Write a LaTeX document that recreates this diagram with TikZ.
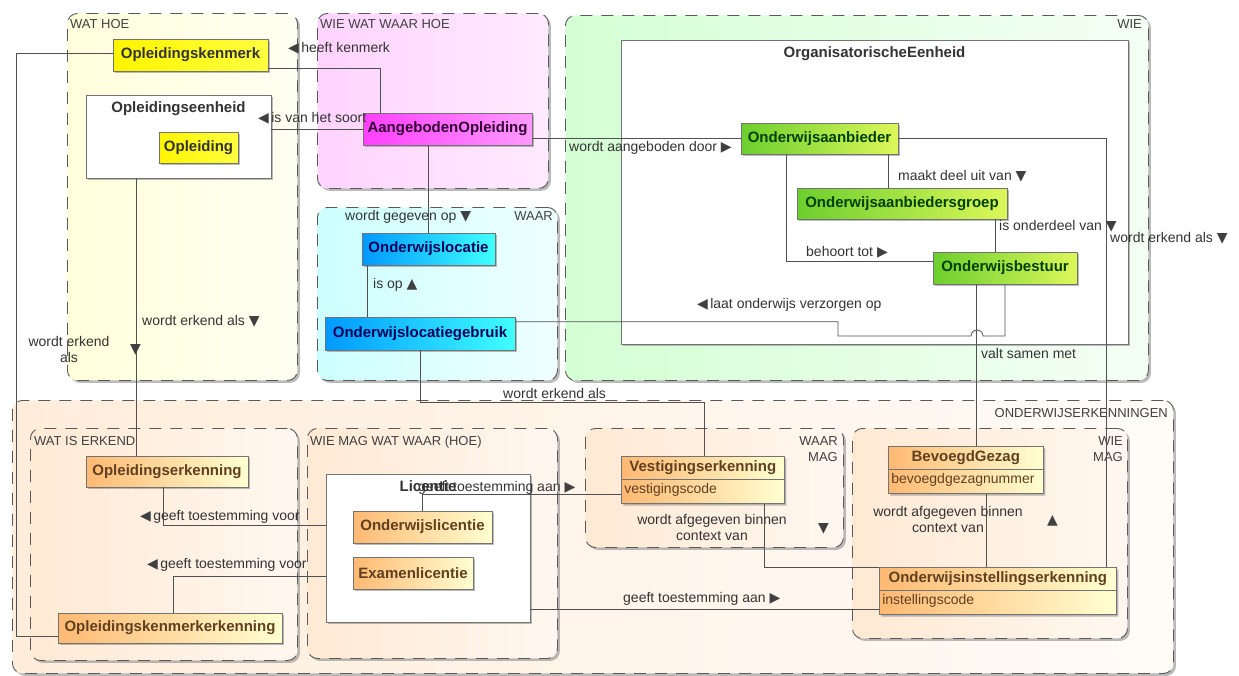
\documentclass[tikz,border=0pt]{standalone}
\usepackage{fontspec}
\setmainfont{Liberation Sans}
\newfontfamily\symfont{DejaVu Sans}
\usetikzlibrary{shapes.multipart,shadows}

\definecolor{lineclr}{HTML}{505050}
\definecolor{dirclr}{HTML}{404040}
\definecolor{grnleft}{HTML}{6CCF2E}
\definecolor{grnright}{HTML}{DDF75A}
\newcommand{\dirleft}{{\symfont\color{dirclr}◀}}
\newcommand{\dirright}{{\symfont\color{dirclr}▶}}
\newcommand{\dirdown}{{\symfont\color{dirclr}▼}}
\newcommand{\dirup}{{\symfont\color{dirclr}▲}}

\tikzset{
  grp/.style={draw=black!65, line width=0.9pt, dash pattern=on 12pt off 9pt,
    rounded corners=10pt, anchor=north west, inner sep=0pt,
    drop shadow={shadow xshift=2.5pt, shadow yshift=-2.5pt, fill=black!45, opacity=0.6}},
  grplbl/.style={font=\fontsize{13}{15}\selectfont, text=black!75, inner sep=0pt},
  box/.style={draw=black!55, line width=0.6pt, inner sep=3pt,
    font=\fontsize{15}{17}\selectfont\bfseries,
    drop shadow={shadow xshift=2pt, shadow yshift=-2pt, fill=black!45, opacity=0.6}},
  ybox/.style={box, left color=yellow!92!orange, right color=yellow!75!white, text=black!80},
  mbox/.style={box, left color=magenta!75!white, right color=magenta!40!white, text=violet!40!black},
  bbox/.style={box, left color=cyan!60!blue, right color=cyan!75!white, text=blue!35!black},
  gbox/.style={box, left color=grnleft, right color=grnright, text=green!25!black},
  obox/.style={box, left color=orange!55!white, right color=yellow!18!white, text=brown!50!black},
  clsbox/.style={obox, anchor=north west, rectangle split, rectangle split parts=2,
    rectangle split part align={center,left}, inner ysep=4pt},
  cont/.style={draw=black!55, fill=white, line width=0.6pt,
    drop shadow={shadow xshift=2pt, shadow yshift=-2pt, fill=black!45, opacity=0.6}},
  ttl/.style={font=\fontsize{15}{17}\selectfont\bfseries, text=black!80, inner sep=0pt},
  lbl/.style={font=\fontsize{14}{16}\selectfont, text=black!80, inner sep=0pt},
  conn/.style={draw=lineclr, line width=0.8pt},
}

\begin{document}
\begin{tikzpicture}[x=1pt, y=-1pt]
  \fill[white] (0,0) rectangle (1239,675);
  \useasboundingbox (0,0) rectangle (1239,675);

  % groups
  \node[grp, left color=yellow!14!white, right color=yellow!5!white, minimum width=230pt, minimum height=367pt] (wathoe) at (67,13) {};
  \node[grp, left color=magenta!17!white, right color=magenta!8!white, minimum width=231pt, minimum height=175pt] (wiewat) at (317,13) {};
  \node[grp, left color=cyan!20!white, right color=cyan!6!white, minimum width=240pt, minimum height=173pt] (waar) at (317,207) {};
  \node[grp, left color=green!17!white, right color=green!4!white, minimum width=583pt, minimum height=365pt] (wie) at (565,15) {};
  \node[grp, left color=orange!14!white, right color=orange!3!white, minimum width=1161pt, minimum height=273pt] (erk) at (12,400) {};
  \node[grp, left color=orange!17!white, right color=orange!6!white, minimum width=267pt, minimum height=232pt] (watis) at (30,428) {};
  \node[grp, left color=orange!17!white, right color=orange!6!white, minimum width=250pt, minimum height=230pt] (wiemagwat) at (307,428) {};
  \node[grp, left color=orange!17!white, right color=orange!6!white, minimum width=258pt, minimum height=119pt] (waarmag) at (585,428) {};
  \node[grp, left color=orange!17!white, right color=orange!6!white, minimum width=275pt, minimum height=210pt] (wiemag) at (852,428) {};

  \node[grplbl, anchor=base west] (l-wathoe) at (70,28) {WAT HOE};
  \node[grplbl, anchor=base west] (l-wiewat) at (320,28) {WIE WAT WAAR HOE};
  \node[grplbl, anchor=base east] (l-waar) at (553,220) {WAAR};
  \node[grplbl, anchor=base east] (l-wie) at (1142,28) {WIE};
  \node[grplbl, anchor=base east] (l-erk) at (1168,417) {ONDERWIJSERKENNINGEN};
  \node[grplbl, anchor=base west] (l-watis) at (34,445) {WAT IS ERKEND};
  \node[grplbl, anchor=base west] (l-wiemagwat) at (310,445) {WIE MAG WAT WAAR (HOE)};
  \node[grplbl, anchor=base east] (l-waarmag1) at (838,445) {WAAR};
  \node[grplbl, anchor=base east] (l-waarmag2) at (838,461) {MAG};
  \node[grplbl, anchor=base east] (l-wiemag1) at (1123,445) {WIE};
  \node[grplbl, anchor=base east] (l-wiemag2) at (1123,461) {MAG};

  % containers
  \node[cont, minimum width=185pt, minimum height=83pt] (eenh) at (178.5,136.5) {};
  \node[ttl, anchor=base] (t-eenh) at (178.5,112) {Opleidingseenheid};
  \node[cont, minimum width=507pt, minimum height=304pt] (orgeh) at (874.5,192) {};
  \node[ttl, anchor=base] (t-orgeh) at (874.5,57) {OrganisatorischeEenheid};
  \node[cont, minimum width=204pt, minimum height=148pt] (lic) at (428,548) {};
  \node[ttl, anchor=base] (t-lic) at (428,491) {Licentie};

  % classes
  \node[ybox, minimum width=155pt, minimum height=32pt] (kenm) at (190.5,55) {Opleidingskenmerk};
  \node[ybox, minimum width=79pt, minimum height=31pt] (opl) at (198.5,147.5) {Opleiding};
  \node[mbox, minimum width=169pt, minimum height=32pt] (aopl) at (447.5,129) {AangebodenOpleiding};
  \node[bbox, minimum width=133pt, minimum height=32pt] (oloc) at (428.5,249) {Onderwijslocatie};
  \node[bbox, minimum width=190pt, minimum height=33pt] (olg) at (420,333.5) {Onderwijslocatiegebruik};
  \node[gbox, minimum width=157pt, minimum height=31pt] (oab) at (819.5,138.5) {Onderwijsaanbieder};
  \node[gbox, minimum width=210pt, minimum height=31pt] (oabg) at (902,203.5) {Onderwijsaanbiedersgroep};
  \node[gbox, minimum width=144pt, minimum height=32pt] (obest) at (1005,268) {Onderwijsbestuur};
  \node[obox, minimum width=162pt, minimum height=31pt] (oplerk) at (167,471.5) {Opleidingserkenning};
  \node[obox, minimum width=224pt, minimum height=30pt] (okerk) at (170,628) {Opleidingskenmerkerkenning};
  \node[obox, minimum width=139pt, minimum height=32pt] (olic) at (422.5,527) {Onderwijslicentie};
  \node[obox, minimum width=120pt, minimum height=32pt] (exlic) at (413,573) {Examenlicentie};
  \node[clsbox, minimum width=163pt] (vest) at (621,456)
    {Vestigingserkenning\nodepart{two}\mdseries\fontsize{14}{16}\selectfont\rule[-6pt]{0pt}{14pt}vestigingscode};
  \node[clsbox, minimum width=155pt] (bg) at (888,446)
    {BevoegdGezag\nodepart{two}\mdseries\fontsize{14}{16}\selectfont\rule[-6pt]{0pt}{14pt}bevoegdgezagnummer};
  \node[clsbox, minimum width=237pt] (oie) at (879,567)
    {Onderwijsinstellingserkenning\nodepart{two}\mdseries\fontsize{14}{16}\selectfont\rule[-6pt]{0pt}{14pt}instellingscode};

  % connectors
  \draw[conn] ([yshift=3pt]kenm.south east) -| ([xshift=18pt]aopl.north west);
  \draw[conn] ([yshift=2pt]kenm.west) -- ++(-96,0) |- ([yshift=-8pt]okerk.west);
  \draw[conn] (aopl.west) -- (aopl.west -| eenh.east);
  \draw[conn] (aopl.east |- oab.west) -- (oab.west);
  \draw[conn] (oloc.north |- aopl.south) -- (oloc.north);
  \draw[conn] ([xshift=6pt]oloc.south west) -- ([xshift=6pt]oloc.south west |- olg.north);
  \draw[conn] ([xshift=51pt]eenh.south west) -- ([xshift=51pt]eenh.south west |- oplerk.north);
  \draw[conn] (olg.south) -- ++(0,52) -| ([xshift=83pt]vest.north west);
  \draw[conn] ([yshift=-5pt]olg.north east) -| (838,336) -- (971,336)
    arc[start angle=180, end angle=360, radius=6] -- (obest.south |- 0,336) -- (obest.south);
  \draw[conn] ([xshift=-10pt]oab.south east) -- ([xshift=-10pt]oab.south east |- oabg.north);
  \draw[conn] ([xshift=46pt]oab.south west) |- ([yshift=7pt]obest.west);
  \draw[conn] ([xshift=-12pt]oabg.south east) -- ([xshift=-12pt]oabg.south east |- obest.north);
  \draw[conn] (oab.east) -| ([xshift=-10pt]oie.north east);
  \draw[conn] ([xshift=44pt]obest.south west) -- ([xshift=44pt]obest.south west |- bg.north);
  \draw[conn] ([xshift=98pt]bg.south west) -- ([xshift=98pt]bg.south west |- oie.north);
  \draw[conn] ([xshift=-20pt]vest.south east) |- (oie.north west);
  \draw[conn] ([xshift=70pt]olic.north west) |- ([yshift=10pt]vest.south west);
  \draw[conn] ([xshift=78pt]oplerk.south west) |- ([yshift=23pt]lic.west);
  \draw[conn] ([xshift=116pt]okerk.north west) |- ([yshift=-28pt]lic.west);
  \draw[conn] ([yshift=13pt]lic.south east) -- ([yshift=13pt]lic.south east -| oie.west);

  % labels
  \node[lbl, anchor=base west] (k-kenmerk) at (288,52) {\dirleft\,heeft kenmerk};
  \node[lbl, anchor=base west] (k-soort) at (258,122) {\dirleft\,is van het soort};
  \node[lbl, anchor=base west] (k-aangeb) at (569,151) {wordt aangeboden door \dirright};
  \node[lbl, anchor=base west] (k-deel) at (898,180) {maakt deel uit van \dirdown};
  \node[lbl, anchor=base west] (k-onderdeel) at (999,230) {is onderdeel van \dirdown};
  \node[lbl, anchor=base west] (k-erkend1) at (1110,242) {wordt erkend als \dirdown};
  \node[lbl, anchor=base west] (k-behoort) at (806,256) {behoort tot \dirright};
  \node[lbl, anchor=base west] (k-verzorgen) at (697,308) {\dirleft\,laat onderwijs verzorgen op};
  \node[lbl, anchor=base west] (k-samen) at (981,358) {valt samen met};
  \node[lbl, anchor=base west] (k-gegeven) at (345,220) {wordt gegeven op \dirdown};
  \node[lbl, anchor=base west] (k-isop) at (373,288) {is op \dirup};
  \node[lbl, anchor=base west] (k-erkend2) at (142,325) {wordt erkend als \dirdown};
  \node[lbl, anchor=north, align=center] (k-erkend3) at (69,336) {wordt erkend\\als};
  \node[lbl, anchor=base west] (k-erkend3d) at (130,353) {\dirdown};
  \node[lbl, anchor=base west] (k-erkend4) at (503,398) {wordt erkend als};
  \node[lbl, anchor=base west] (k-voor1) at (140,520) {\dirleft\,geeft toestemming voor};
  \node[lbl, anchor=base west] (k-voor2) at (147,568) {\dirleft\,geeft toestemming voor};
  \node[lbl, anchor=base west] (k-aan1) at (418,491) {geeft toestemming aan \dirright};
  \node[lbl, anchor=base west] (k-aan2) at (623,602) {geeft toestemming aan \dirright};
  \node[lbl, anchor=north, align=center] (k-binnen1) at (712,514) {wordt afgegeven binnen\\context van};
  \node[lbl, anchor=base west] (k-binnen1d) at (818,532) {\dirdown};
  \node[lbl, anchor=north, align=center] (k-binnen2) at (948,506) {wordt afgegeven binnen\\context van};
  \node[lbl, anchor=base west] (k-binnen2u) at (1047,524) {\dirup};
\end{tikzpicture}
\end{document}
